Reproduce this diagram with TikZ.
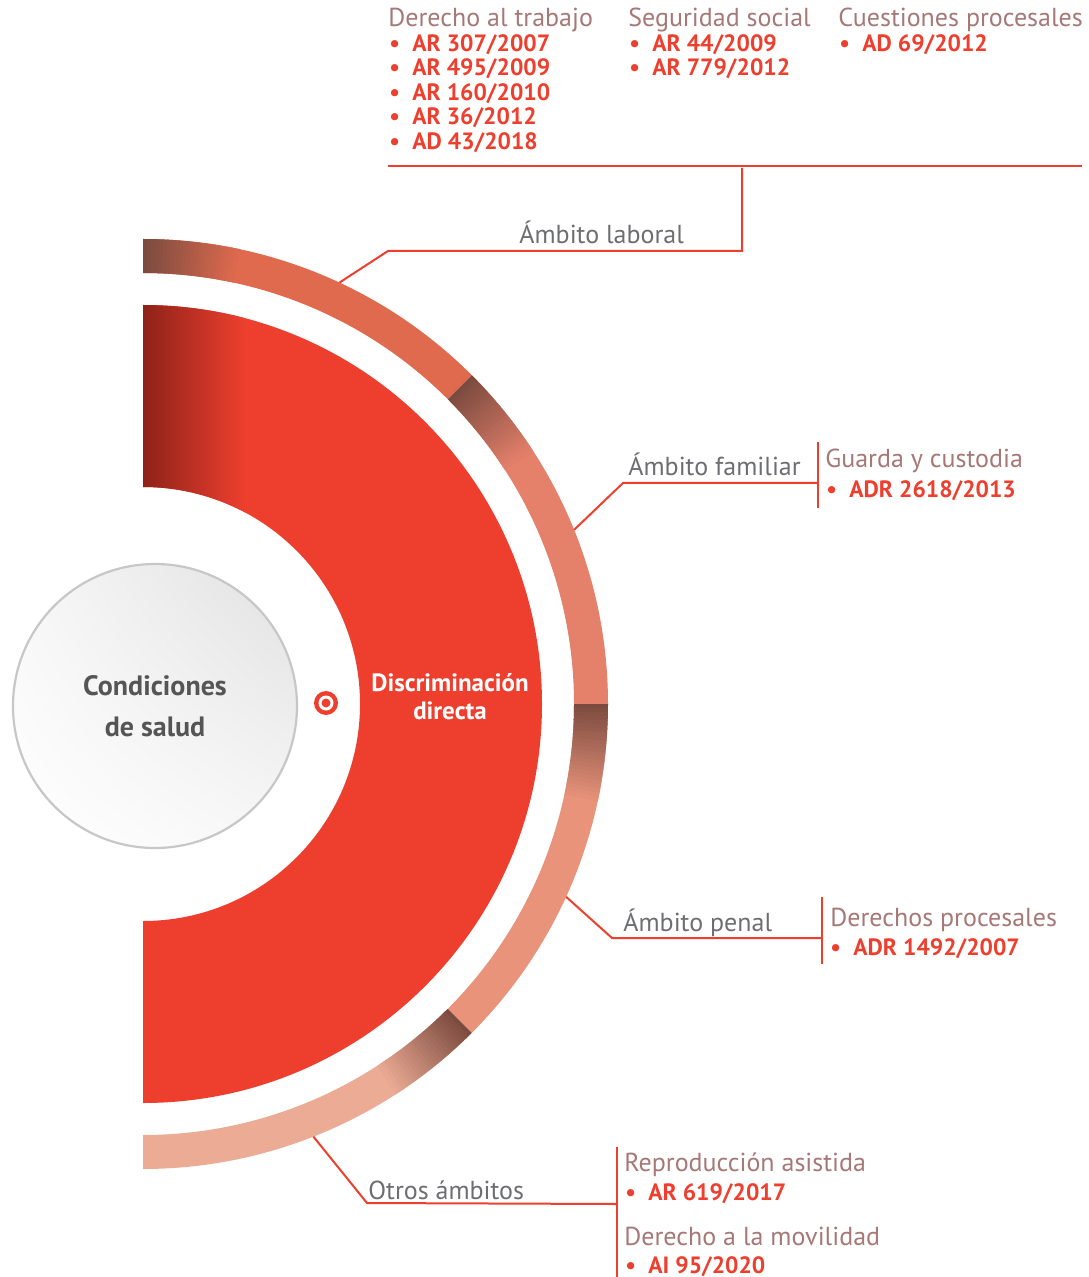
\documentclass[tikz,border=0pt]{standalone}
\usepackage{fontspec}
\setmainfont{PT Sans}
\usepackage{tikz}
\usetikzlibrary{calc,shadings}

\definecolor{discred}{HTML}{EE3F2E}
\definecolor{reddark}{HTML}{8E2219}
\definecolor{ringdark}{HTML}{7B4B3F}
\definecolor{laborc}{HTML}{E06A4E}
\definecolor{famc}{HTML}{E5806A}
\definecolor{penalc}{HTML}{E8937A}
\definecolor{otrosc}{HTML}{ECAB94}
\definecolor{headc}{HTML}{A67876}
\definecolor{labelc}{HTML}{6D6E71}
\definecolor{condc}{HTML}{555555}

\newcommand\itembul{\makebox[11.5pt][l]{\textbullet}}
% one quarter of the outer ring, dark at its first end
\newcommand\ringpart[2]{%
  \fill[#2] ($(c)+(#1:431)$) arc[start angle=#1, end angle=#1-45, radius=431]
    -- ($(c)+(#1-45:465)$) arc[start angle=#1-45, end angle=#1, radius=465] -- cycle;
  \foreach \k in {0,...,23}{
    \pgfmathsetmacro\a{#1-\k*0.5}
    \pgfmathtruncatemacro\p{100-100*\k/24}
    \fill[ringdark!\p!#2] ($(c)+(\a:431)$) arc[start angle=\a, end angle=\a-0.6, radius=431]
      -- ($(c)+(\a-0.6:465)$) arc[start angle=\a-0.6, end angle=\a, radius=465] -- cycle;
  }%
}

\begin{document}
\begin{tikzpicture}[x=0.5pt,y=0.5pt,
    conn/.style={draw=discred, line width=1pt},
    head/.style={anchor=base west, inner sep=0, text=headc, font=\fontsize{13}{15}\selectfont},
    item/.style={anchor=base west, inner sep=0, text=discred, font=\bfseries\fontsize{11.8}{12}\selectfont},
    lbl/.style={anchor=base west, inner sep=0, text=labelc, font=\fontsize{13}{15}\selectfont}]
    \useasboundingbox (0,0) rectangle (1088,-1277);
    \coordinate (c) at (143,-704);

    % outer ring
    \ringpart{90}{laborc}
    \ringpart{45}{famc}
    \ringpart{0}{penalc}
    \ringpart{-45}{otrosc}

    % red half ring
    \fill[discred] ($(c)+(90:399)$) arc[start angle=90, end angle=-90, radius=399]
        -- ($(c)+(-90:217)$) arc[start angle=-90, end angle=90, radius=217] -- cycle;
    \begin{scope}
        \clip ($(c)+(90:399)$) arc[start angle=90, end angle=-90, radius=399]
            -- ($(c)+(-90:217)$) arc[start angle=-90, end angle=90, radius=217] -- cycle;
        \shade[left color=reddark, right color=discred] (143,-290) rectangle (245,-704);
    \end{scope}

    \node[circle, minimum size=142pt, draw=black!22, line width=1.1pt,
        upper right=black!12, lower left=white, upper left=black!3, lower right=black!3,
        text=condc, align=center, font=\bfseries\fontsize{14}{20.5}\selectfont]
        (cond) at (155,-706) {Condiciones\\de salud};

    \fill[discred] (326,-703) circle[radius=12];
    \fill[white] (326,-703) circle[radius=7.5];
    \fill[discred] (326,-703) circle[radius=4.5];
    \node[text=white, align=center, font=\bfseries\fontsize{12.5}{14}\selectfont]
        (disc) at (450,-697) {Discriminación\\directa};

    % top lists
    \node[head] (trab) at (388,-27) {Derecho al trabajo};
    \foreach \t [count=\i from 0] in {AR 307/2007,AR 495/2009,AR 160/2010,AR 36/2012,AD 43/2018}
        \node[item] (trab-\i) at (389,{-51.5-24.5*\i}) {\itembul\t};
    \node[head] (seg) at (628,-27) {Seguridad social};
    \foreach \t [count=\i from 0] in {AR 44/2009,AR 779/2012}
        \node[item] (seg-\i) at (629,{-51.5-24.5*\i}) {\itembul\t};
    \node[head] (cues) at (838,-27) {Cuestiones procesales};
    \node[item] (cues-0) at (839,-51.5) {\itembul AD 69/2012};

    \coordinate (hl-w) at (388,-166);
    \coordinate (hl-e) at (1082,-166);
    \draw[conn] (hl-w) -- (hl-e);

    % ambito laboral
    \path (c) ++(65:465) coordinate (lab-p);
    \coordinate (lab-k) at (388,-251);
    \coordinate (lab-e) at (742,-251);
    \coordinate (lab-t) at (742,-168);
    \draw[conn] (lab-p) -- (lab-k) -- (lab-e) -- (lab-t);
    \node[lbl] (lab) at (519,-244) {Ámbito laboral};

    % ambito familiar
    \path (c) ++(22:465) coordinate (fam-p);
    \coordinate (fam-k) at (623,-483);
    \coordinate (fam-e) at (818,-483);
    \coordinate (fam-bt) at (818,-442);
    \coordinate (fam-bb) at (818,-508);
    \draw[conn] (fam-p) -- (fam-k) -- (fam-e);
    \draw[conn] (fam-bt) -- (fam-bb);
    \node[lbl] (fam) at (628,-476) {Ámbito familiar};
    \node[head] (guar) at (825,-468) {Guarda y custodia};
    \node[item] (guar-0) at (826,-497) {\itembul ADR 2618/2013};

    % ambito penal
    \path (c) ++(-24.5:465) coordinate (pen-p);
    \coordinate (pen-k) at (612,-938);
    \coordinate (pen-e) at (822,-938);
    \coordinate (pen-bt) at (822,-897);
    \coordinate (pen-bb) at (822,-964);
    \draw[conn] (pen-p) -- (pen-k) -- (pen-e);
    \draw[conn] (pen-bt) -- (pen-bb);
    \node[lbl] (pen) at (623,-931) {Ámbito penal};
    \node[head] (dpro) at (830,-926) {Derechos procesales};
    \node[item] (dpro-0) at (830,-955) {\itembul ADR 1492/2007};

    % otros ambitos
    \path (c) ++(-68.5:465) coordinate (otr-p);
    \coordinate (otr-k) at (367,-1203);
    \coordinate (otr-e) at (617,-1204);
    \coordinate (otr-bt) at (617,-1147);
    \coordinate (otr-bb) at (617,-1277);
    \draw[conn] (otr-p) -- (otr-k) -- (otr-e);
    \draw[conn] (otr-bt) -- (otr-bb);
    \node[lbl] (otr) at (368,-1199) {Otros ámbitos};
    \node[head] (repr) at (624,-1171) {Reproducción asistida};
    \node[item] (repr-0) at (625,-1200) {\itembul AR 619/2017};
    \node[head] (movi) at (624,-1245) {Derecho a la movilidad};
    \node[item] (movi-0) at (625,-1273.5) {\itembul AI 95/2020};
\end{tikzpicture}
\end{document}
